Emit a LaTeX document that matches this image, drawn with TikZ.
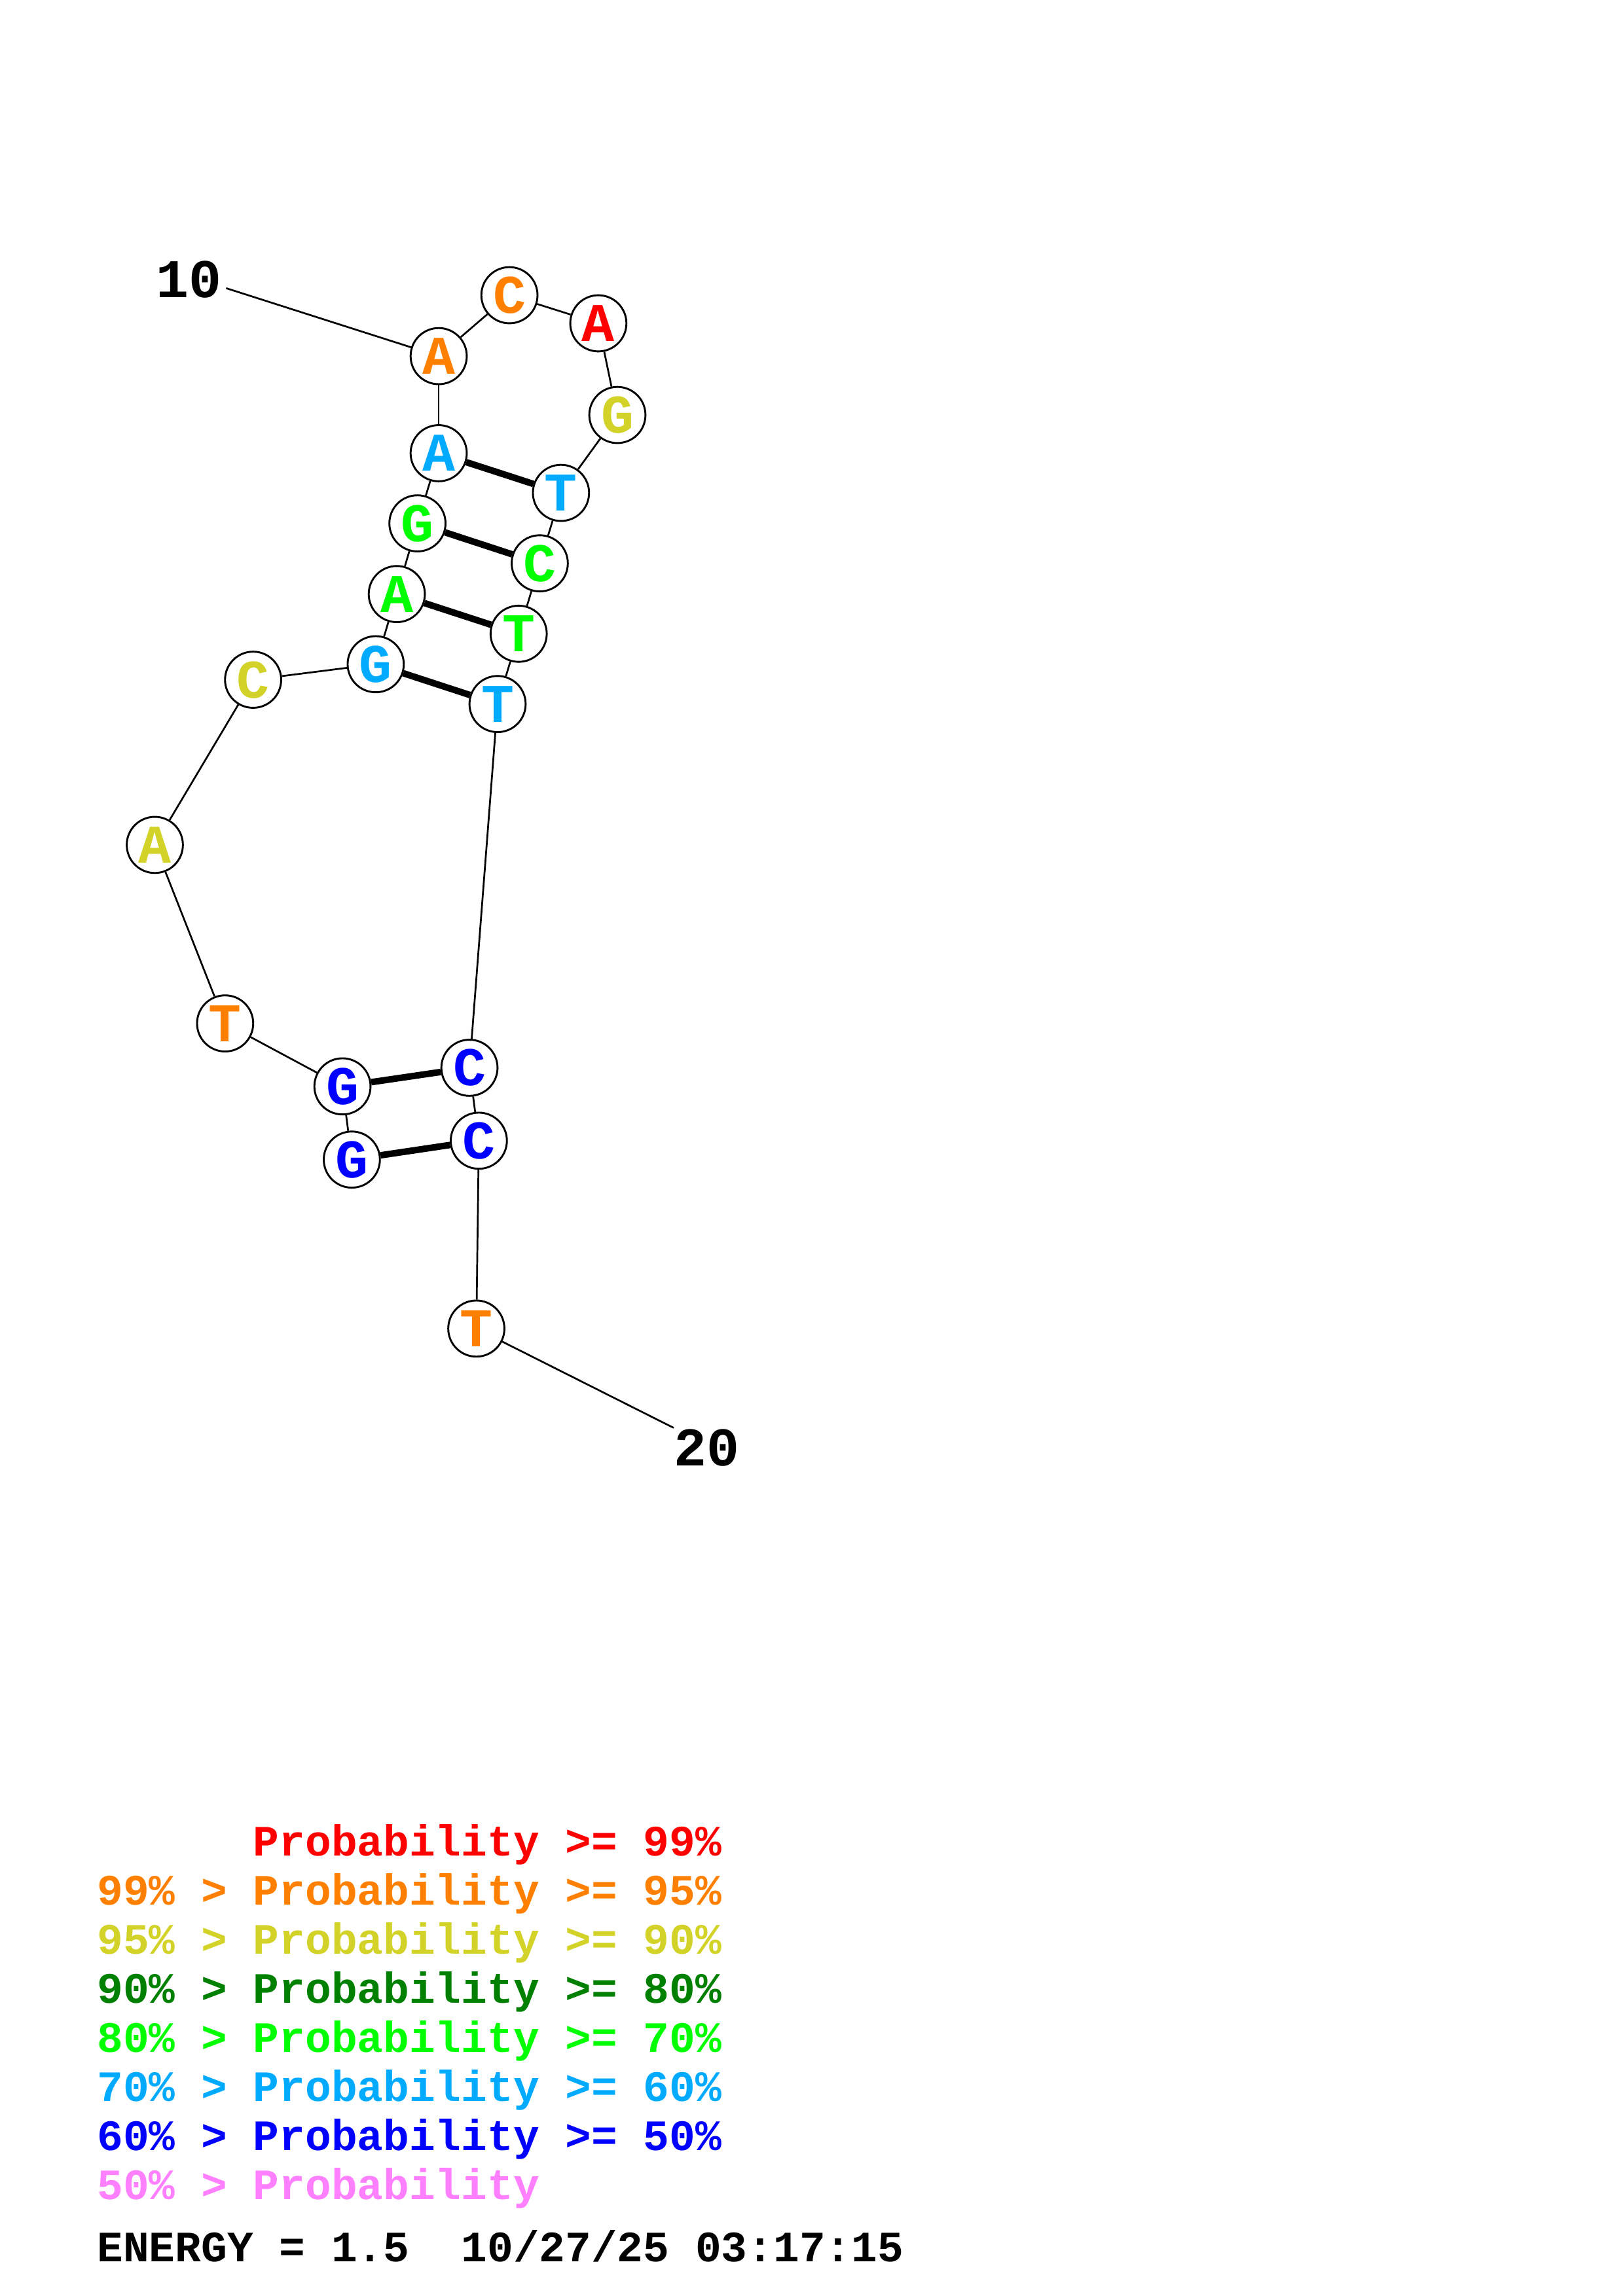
\documentclass[tikz,border=0pt]{standalone}
\usepackage{fontspec}
\setmonofont{Liberation Mono}
\usepackage{tikz}
\definecolor{c99}{RGB}{255,0,0}
\definecolor{c95}{RGB}{255,128,0}
\definecolor{c90}{RGB}{210,210,40}
\definecolor{c80}{RGB}{0,128,0}
\definecolor{c70}{RGB}{0,255,0}
\definecolor{c60}{RGB}{0,170,255}
\definecolor{c50}{RGB}{0,0,255}
\definecolor{clow}{RGB}{255,128,255}

\begin{document}
\begin{tikzpicture}[x=0.5373pt,y=-0.5373pt,
  base/.style={circle,draw,line width=0.7pt,fill=white,minimum size=20.6pt,inner sep=0pt,font=\ttfamily\bfseries\fontsize{20}{20}\selectfont},
  bb/.style={line width=0.65pt},
  bp/.style={line width=2.4pt},
  numlbl/.style={font=\ttfamily\bfseries\fontsize{20}{20}\selectfont},
  legend/.style={anchor=base west,inner sep=0pt,font=\ttfamily\bfseries\fontsize{15.9}{15.9}\selectfont}]
  \useasboundingbox (0,0) rectangle (1108,1568);
  % nucleotides 1..20
  \foreach \i/\x/\y/\b/\c in {1/240.2/791.9/G/c50, 2/233.8/741.9/G/c50, 3/153.7/698.9/T/c95, 4/105.7/577/A/c90,
      5/172.8/464.2/C/c90, 6/256.5/453.6/G/c60, 7/270.9/405.7/A/c70, 8/285/357.4/G/c70, 9/299.5/309.5/A/c60,
      10/299.5/243.2/A/c95, 11/347.8/201.6/C/c95, 12/408.5/220.8/A/c99, 13/421.5/283.4/G/c90, 14/383/336.6/T/c60,
      15/368.5/384.7/C/c70, 16/354.1/432.8/T/c70, 17/339.7/480.8/T/c60, 18/320.5/729.2/C/c50, 19/326.9/779/C/c50,
      20/325.2/907.3/T/c95}
    \node[base,text=\c] (n\i) at (\x,\y) {\b};
  % backbone
  \foreach \i [evaluate=\i as \j using int(\i+1)] in {1,...,19} \draw[bb] (n\i) -- (n\j);
  % pairs
  \foreach \p/\q in {9/14,8/15,7/16,6/17,2/18,1/19} \draw[bp] (n\p) -- (n\q);
  % ends
  \node[numlbl] (lbl10) at (129,190.8) {10}; \coordinate (e10) at (154.4,196.8); \draw[bb] (e10) -- (n10);
  \node[numlbl] (lbl20) at (482.7,988.6) {20}; \coordinate (e20) at (459.9,975.1); \draw[bb] (n20) -- (e20);
  % legend
  \foreach \c/\t [count=\k from 0] in {c99/{\hphantom{99\% > }Probability >= 99\%}, c95/{99\% > Probability >= 95\%},
      c90/{95\% > Probability >= 90\%}, c80/{90\% > Probability >= 80\%}, c70/{80\% > Probability >= 70\%},
      c60/{70\% > Probability >= 60\%}, c50/{60\% > Probability >= 50\%}, clow/{50\% > Probability}}
    \node[legend,text=\c] (lg\k) at (66,1267.3+33.53*\k) {\t};
  \node[legend] (energy) at (66,1544.6) {ENERGY = 1.5\ \ 10/27/25 03:17:15};
\end{tikzpicture}
\end{document}
